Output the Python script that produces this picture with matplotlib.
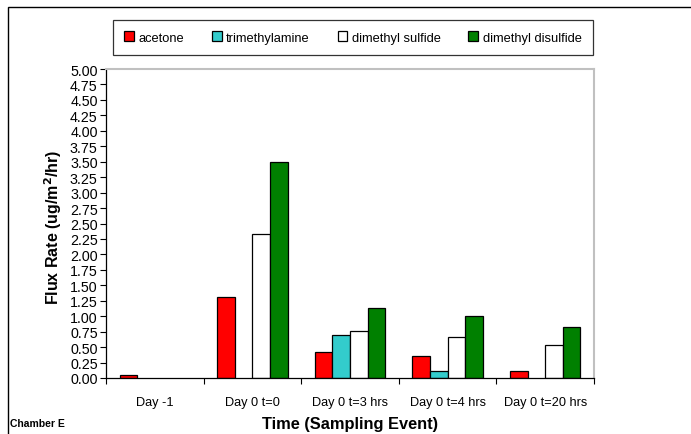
import numpy as np
import matplotlib
matplotlib.use('Agg')
import matplotlib.pyplot as plt
from matplotlib.patches import Rectangle

plt.rcParams['font.family'] = ['Liberation Sans', 'DejaVu Sans']

# data
events = ['Day -1', 'Day 0 t=0', 'Day 0 t=3 hrs', 'Day 0 t=4 hrs', 'Day 0 t=20 hrs']
acetone = [0.05, 1.31, 0.42, 0.36, 0.11]
trimethylamine = [0.0, 0.0, 0.70, 0.11, 0.0]
dimethyl_sulfide = [0.0, 2.33, 0.76, 0.66, 0.53]
dimethyl_disulfide = [0.0, 3.49, 1.13, 1.00, 0.82]

series = [('acetone', acetone, '#FF0000'),
          ('trimethylamine', trimethylamine, '#33CCCC'),
          ('dimethyl sulfide', dimethyl_sulfide, '#FFFFFF'),
          ('dimethyl disulfide', dimethyl_disulfide, '#008000')]

fig = plt.figure(figsize=(6.91, 4.35), dpi=100)
W, H = 691, 435
ax = fig.add_axes([106 / W, 1 - 379 / H, 488 / W, 309 / H])

x = np.arange(len(events))
bw = 0.18
for k, (name, vals, col) in enumerate(series):
  # zero values are not drawn at all in the original
  v = np.array(vals, dtype=float)
  v[v == 0] = np.nan
  ax.bar(x + (k - 1.5) * bw, v, bw, color=col, edgecolor='black', linewidth=0.9,
         label=name)

ax.set_xlim(-0.5, len(events) - 0.5)
ax.set_ylim(0, 5)
yt = np.arange(0, 5.01, 0.25)
ax.set_yticks(yt)
ax.set_yticklabels(['%.2f' % v for v in yt], fontsize=10.3)
ax.set_xticks(x)
ax.set_xticklabels(events, fontsize=9.2)
ax.set_xticks(np.arange(-0.5, len(events), 1.0), minor=True)
ax.tick_params(axis='x', which='major', length=0, pad=13)
ax.tick_params(axis='x', which='minor', length=4, direction='out', width=0.8)
ax.tick_params(axis='y', length=4, direction='out', width=0.8, pad=2)

for s in ['top', 'right']:
  ax.spines[s].set_color('#c0c0c0')
  ax.spines[s].set_linewidth(1.5)
for s in ['left', 'bottom']:
  ax.spines[s].set_color('black')
  ax.spines[s].set_linewidth(0.9)

fig.text(53 / W, 1 - 227 / H, 'Flux Rate (ug/m$^\\mathbf{2}$/hr)', fontsize=11.5,
         fontweight='bold', rotation=90, ha='center', va='center')
fig.text(350 / W, 1 - 425 / H, 'Time (Sampling Event)', fontsize=11.8, fontweight='bold',
         ha='center', va='center')
fig.text(10 / W, 1 - 424 / H, 'Chamber E', fontsize=7.5, fontweight='bold',
         ha='left', va='center')

leg = fig.legend(loc='center', bbox_to_anchor=(353 / W, 1 - 38.5 / H), ncol=4,
                 fontsize=9.3, frameon=True, fancybox=False, edgecolor='black',
                 handlelength=0.75, handleheight=0.75, handletextpad=0.35,
                 columnspacing=2.15, borderpad=0.85, borderaxespad=0)
leg.get_frame().set_linewidth(0.9)

# outer frame (only left/top visible in the original crop)
fig.patches.append(Rectangle((8 / W, -0.1), 1.2, 1 - 8 / H + 0.1, transform=fig.transFigure,
                             fill=False, edgecolor='black', linewidth=1.0))

fig.savefig('out.png', dpi=100)
